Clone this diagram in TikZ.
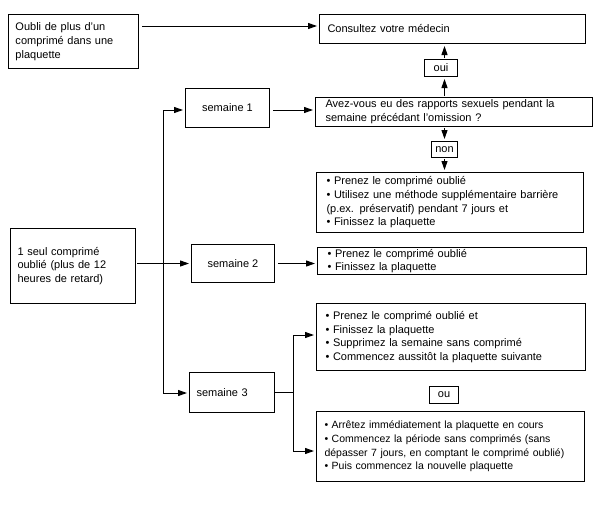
\documentclass[tikz,border=0pt]{standalone}
\usepackage{fontspec}
\setmainfont{Liberation Sans}
\usetikzlibrary{arrows.meta,calc}
\begin{document}
\begin{tikzpicture}[x=1pt,y=-1pt,
  box/.style={draw, line width=1pt, anchor=north west, inner ysep=0pt,
    font=\fontsize{11}{13.7}\selectfont, align=left},
  cbox/.style={draw, line width=1pt, anchor=north west, inner sep=0pt,
    font=\fontsize{11}{13.7}\selectfont, align=center},
  arr/.style={line width=1pt, -{Triangle[length=9pt,width=6pt]}, shorten >=2pt},
  ln/.style={line width=1pt}]
\useasboundingbox (0,0) rectangle (604,514);
% boxes
\node[box, inner xsep=7pt, text width=116pt, minimum width=130pt, minimum height=54pt] (oubli) at (8,14)
  {Oubli de plus d'un\\comprimé dans une\\plaquette};
\node[box, inner xsep=8pt, text width=250pt, minimum width=266pt, minimum height=29pt] (consult) at (319,14)
  {Consultez votre médecin};
\node[cbox, minimum width=33pt, minimum height=17pt] (oui) at (424,59) {oui};
\node[box, inner xsep=10pt, text width=257pt, minimum width=277pt, minimum height=29pt] (avez) at (315,97)
  {Avez-vous eu des rapports sexuels pendant la\\semaine précédant l'omission ?};
\node[cbox, minimum width=26pt, minimum height=16pt] (non) at (431,141) {non};
\node[box, inner xsep=10pt, text width=247pt, minimum width=267pt, minimum height=60pt] (pren1) at (316,172)
  {• Prenez le comprimé oublié\\• Utilisez une méthode supplémentaire barrière\\(p.ex. préservatif) pendant 7 jours et\\• Finissez la plaquette};
\node[box, inner xsep=10pt, text width=249pt, minimum width=269pt, minimum height=27pt] (pren2) at (317,247)
  {• Prenez le comprimé oublié\\• Finissez la plaquette};
\node[box, inner xsep=9pt, text width=251pt, minimum width=269pt, minimum height=67pt] (pren3) at (316,303)
  {• Prenez le comprimé oublié et\\• Finissez la plaquette\\• Supprimez la semaine sans comprimé\\• Commencez aussitôt la plaquette suivante};
\node[cbox, minimum width=29pt, minimum height=17pt] (ou) at (429,386) {ou};
\node[box, inner xsep=8pt, text width=252pt, minimum width=268pt, minimum height=70pt,
  font=\fontsize{10.5}{13.7}\selectfont] (arr3) at (316,411)
  {• Arrêtez immédiatement la plaquette en cours\\• Commencez la période sans comprimés (sans\\\mbox{dépasser 7 jours, en comptant le comprimé oublié)}\\• Puis commencez la nouvelle plaquette};
\node[cbox, minimum width=84pt, minimum height=39pt] (sem1) at (185,88) {semaine 1};
\node[cbox, minimum width=83pt, minimum height=38pt] (sem2) at (191,244) {semaine 2};
\node[box, inner xsep=7pt, text width=71pt, minimum width=85pt, minimum height=40pt] (sem3) at (189,372) {semaine 3};
\node[box, inner xsep=7pt, text width=111pt, minimum width=125pt, minimum height=75pt] (seul) at (10,228)
  {1 seul comprimé\\oublié (plus de 12\\heures de retard)};
% junctions
\coordinate (j1) at (163,110);
\coordinate (j3) at (163,393);
\coordinate (k3) at (293,392);
\coordinate (ka) at (293,335);
\coordinate (kb) at (293,451);
% connectors
\draw[arr, shorten <=3pt] (oubli.east |- 0,26) -- (consult.west |- 0,26);
\draw[arr, shorten <=1pt] (avez.north -| non.north) -- (oui.south -| non.north);
\draw[arr, shorten <=1pt] (oui.north -| non.north) -- (consult.south -| non.north);
\draw[arr, shorten <=1pt] (avez.south -| non.north) -- (non.north);
\draw[arr, shorten <=1pt] (non.south) -- (pren1.north -| non.south);
\draw[ln] (j1) -- (j3);
\draw[arr] (j1) -- (sem1.west |- j1);
\draw[arr] (j3) -- (sem3.west |- j3);
\draw[arr, shorten <=1pt] (seul.east |- sem2.west) -- (sem2.west);
\draw[arr, shorten <=3pt] (sem1.east |- j1) -- (avez.west |- j1);
\draw[arr, shorten <=3pt] (sem2.east) -- (pren2.west |- sem2.east);
\draw[ln] (sem3.east |- k3) -- (k3);
\draw[ln] (ka) -- (kb);
\draw[arr] (ka) -- (pren3.west |- ka);
\draw[arr] (kb) -- (arr3.west |- kb);
\end{tikzpicture}
\end{document}
